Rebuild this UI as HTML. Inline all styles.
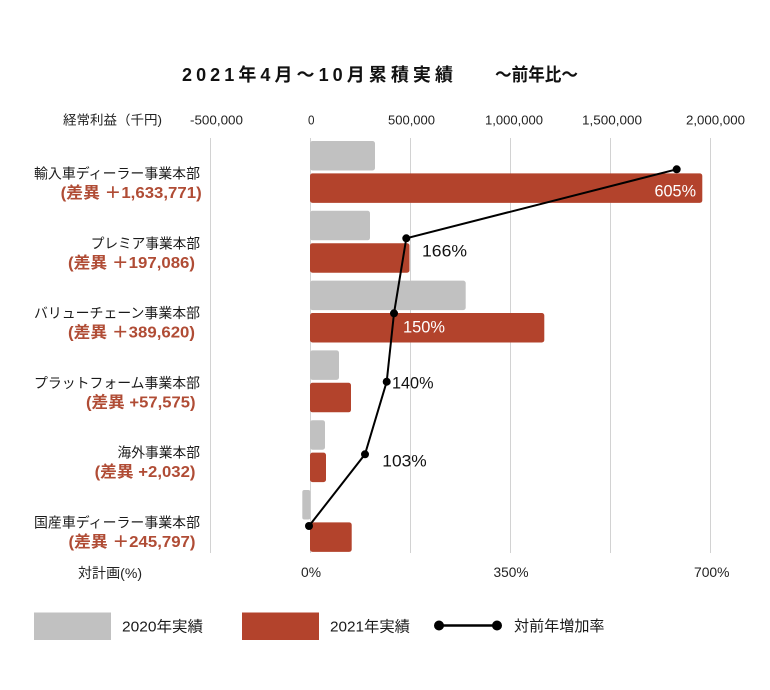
<!DOCTYPE html>
<html><head><meta charset="utf-8">
<style>
html,body{margin:0;padding:0;background:#fff;}
svg{display:block;}
text{font-family:"Liberation Sans","Noto Sans CJK JP",sans-serif;}
</style></head>
<body>
<svg width="770" height="690" viewBox="0 0 770 690" xmlns="http://www.w3.org/2000/svg">
<rect width="770" height="690" fill="#fff"/>
<!-- Title -->
<text x="182" y="81" font-size="18" font-weight="bold" fill="#111" textLength="271" lengthAdjust="spacing">2021年4月～10月累積実績</text>
<text x="495" y="81" font-size="18" font-weight="bold" fill="#111" textLength="83" lengthAdjust="spacingAndGlyphs">～前年比～</text>

<!-- top axis labels -->
<g font-size="13" fill="#222">
<text x="63" y="124.5" textLength="99" lengthAdjust="spacingAndGlyphs">経常利益（千円)</text>
<text x="190" y="124.5" textLength="53" lengthAdjust="spacingAndGlyphs">-500,000</text>
<text x="308" y="124.5" textLength="6.5" lengthAdjust="spacingAndGlyphs">0</text>
<text x="388" y="124.5" textLength="47" lengthAdjust="spacingAndGlyphs">500,000</text>
<text x="485" y="124.5" textLength="58" lengthAdjust="spacingAndGlyphs">1,000,000</text>
<text x="582" y="124.5" textLength="60" lengthAdjust="spacingAndGlyphs">1,500,000</text>
<text x="686" y="124.5" textLength="59" lengthAdjust="spacingAndGlyphs">2,000,000</text>
</g>

<!-- gridlines -->
<g stroke="#d2d2d2" stroke-width="1">
<line x1="210.5" y1="138" x2="210.5" y2="553"/>
<line x1="310.5" y1="138" x2="310.5" y2="553"/>
<line x1="410.5" y1="138" x2="410.5" y2="553"/>
<line x1="510.5" y1="138" x2="510.5" y2="553"/>
<line x1="610.5" y1="138" x2="610.5" y2="553"/>
<line x1="710.5" y1="138" x2="710.5" y2="553"/>
</g>

<!-- bars -->
<g fill="#c1c1c1">
<rect x="310" y="141" width="65" height="29.5" rx="2.5"/>
<rect x="310" y="210.8" width="60" height="29.5" rx="2.5"/>
<rect x="310" y="280.6" width="155.7" height="29.5" rx="2.5"/>
<rect x="310" y="350.4" width="29" height="29.5" rx="2.5"/>
<rect x="310" y="420.2" width="15" height="29.5" rx="2.5"/>
<rect x="302.3" y="490" width="8" height="29.5" rx="2"/>
</g>
<g fill="#b3432c">
<rect x="310" y="173.4" width="392.3" height="29.5" rx="2.5"/>
<rect x="310" y="243.2" width="99.5" height="29.5" rx="2.5"/>
<rect x="310" y="313" width="234.3" height="29.5" rx="2.5"/>
<rect x="310" y="382.8" width="41" height="29.5" rx="2.5"/>
<rect x="310" y="452.6" width="16" height="29.5" rx="2.5"/>
<rect x="310" y="522.4" width="41.7" height="29.5" rx="2.5"/>
</g>

<!-- line -->
<polyline points="676.7,169.3 406.3,238.3 394,313.3 386.7,381.7 365,454.3 309,526" fill="none" stroke="#000" stroke-width="2"/>
<g fill="#000">
<circle cx="676.7" cy="169.3" r="4"/>
<circle cx="406.3" cy="238.3" r="4"/>
<circle cx="394" cy="313.3" r="4"/>
<circle cx="386.7" cy="381.7" r="4"/>
<circle cx="365" cy="454.3" r="4"/>
<circle cx="309" cy="526" r="4"/>
</g>

<!-- data labels -->
<g font-size="16.5">
<text x="654.5" y="196.7" fill="#fff" textLength="41.5" lengthAdjust="spacingAndGlyphs">605%</text>
<text x="422" y="256.7" fill="#111" textLength="45" lengthAdjust="spacingAndGlyphs">166%</text>
<text x="403" y="332.7" fill="#fff" textLength="42" lengthAdjust="spacingAndGlyphs">150%</text>
<text x="392" y="388.3" fill="#111" textLength="41.5" lengthAdjust="spacingAndGlyphs">140%</text>
<text x="382.3" y="466.5" fill="#111" textLength="44.4" lengthAdjust="spacingAndGlyphs">103%</text>
</g>

<!-- category labels -->
<g font-size="14" fill="#1a1a1a">
<text x="34" y="178.5" textLength="166" lengthAdjust="spacingAndGlyphs">輸入車ディーラー事業本部</text>
<text x="90.7" y="248.3" textLength="109.3" lengthAdjust="spacingAndGlyphs">プレミア事業本部</text>
<text x="34" y="318.1" textLength="166" lengthAdjust="spacingAndGlyphs">バリューチェーン事業本部</text>
<text x="34" y="387.9" textLength="166" lengthAdjust="spacingAndGlyphs">プラットフォーム事業本部</text>
<text x="117.5" y="457.7" textLength="82.5" lengthAdjust="spacingAndGlyphs">海外事業本部</text>
<text x="34" y="527.5" textLength="166" lengthAdjust="spacingAndGlyphs">国産車ディーラー事業本部</text>
</g>
<g font-size="16" font-weight="bold" fill="#b04c35">
<text x="60.7" y="198" textLength="141" lengthAdjust="spacingAndGlyphs">(差異 ＋1,633,771)</text>
<text x="68" y="267.8" textLength="127" lengthAdjust="spacingAndGlyphs">(差異 ＋197,086)</text>
<text x="68" y="337.6" textLength="127" lengthAdjust="spacingAndGlyphs">(差異 ＋389,620)</text>
<text x="86" y="407.4" textLength="109.5" lengthAdjust="spacingAndGlyphs">(差異 +57,575)</text>
<text x="94.6" y="477.2" textLength="100.9" lengthAdjust="spacingAndGlyphs">(差異 +2,032)</text>
<text x="68.5" y="547" textLength="127" lengthAdjust="spacingAndGlyphs">(差異 ＋245,797)</text>
</g>

<!-- bottom axis -->
<g font-size="14" fill="#222">
<text x="78" y="578" textLength="64" lengthAdjust="spacingAndGlyphs">対計画(%)</text>
<text x="301" y="577" textLength="20" lengthAdjust="spacingAndGlyphs">0%</text>
<text x="493.5" y="577" textLength="35" lengthAdjust="spacingAndGlyphs">350%</text>
<text x="694" y="577" textLength="35.5" lengthAdjust="spacingAndGlyphs">700%</text>
</g>

<!-- legend -->
<rect x="34" y="612.5" width="77" height="27.5" fill="#c1c1c1"/>
<rect x="242" y="612.5" width="77" height="27.5" fill="#b3432c"/>
<line x1="439" y1="625.5" x2="497" y2="625.5" stroke="#000" stroke-width="2.5"/>
<circle cx="439" cy="625.5" r="5" fill="#000"/>
<circle cx="497" cy="625.5" r="5" fill="#000"/>
<g font-size="15" fill="#1a1a1a">
<text x="122" y="631.5" textLength="81" lengthAdjust="spacingAndGlyphs">2020年実績</text>
<text x="330" y="631.5" textLength="80" lengthAdjust="spacingAndGlyphs">2021年実績</text>
<text x="514" y="631" textLength="90.5" lengthAdjust="spacingAndGlyphs">対前年増加率</text>
</g>
</svg>
</body></html>
